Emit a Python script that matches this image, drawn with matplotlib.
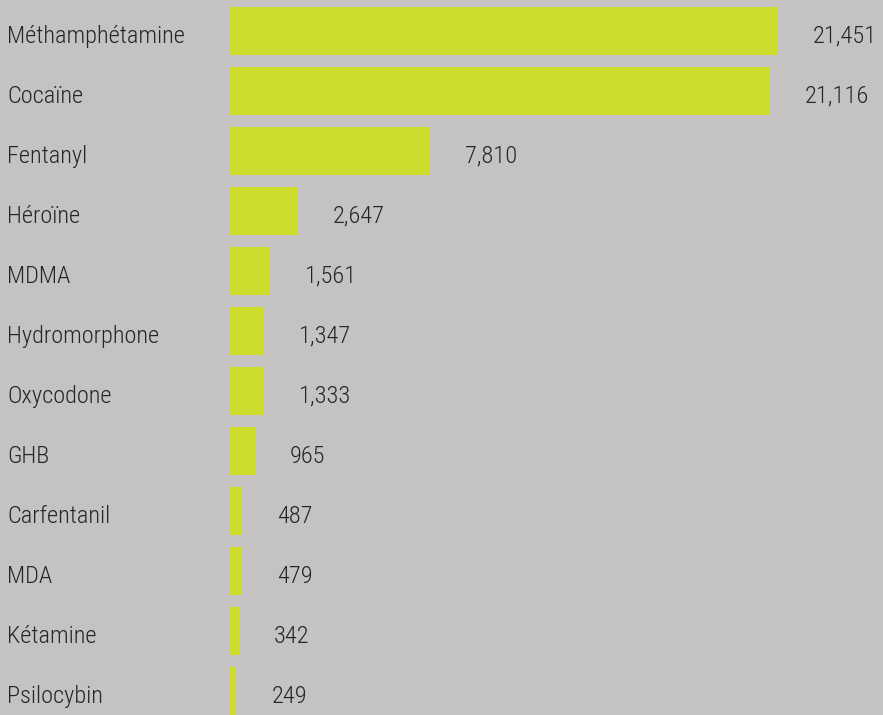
import matplotlib
matplotlib.use("Agg")
import matplotlib.pyplot as plt
import matplotlib.transforms as mtransforms

categories = ["Méthamphétamine", "Cocaïne", "Fentanyl", "Héroïne", "MDMA", "Hydromorphone",
              "Oxycodone", "GHB", "Carfentanil", "MDA", "Kétamine", "Psilocybin"]
values = [21451, 21116, 7810, 2647, 1561, 1347, 1333, 965, 487, 479, 342, 249]

FAM = ["Roboto Condensed", "DejaVu Sans"]
BG = "#c4c3c1"
BAR = "#cddc2d"
TXT = "#262626"

W, H = 883, 715
fig = plt.figure(figsize=(W / 100, H / 100), dpi=100, facecolor=BG)
ax = fig.add_axes([230 / W, 0, (W - 230) / W, 1])
ax.set_facecolor(BG)

px_per_unit = 548 / 21451
ax.set_xlim(0, (W - 230) / px_per_unit)
ax.set_ylim((715 - 31) / 60, -31 / 60)

ypos = list(range(len(categories)))
ax.barh(ypos, values, height=0.8, color=BAR, linewidth=0)

fs = 17.6
trans = mtransforms.blended_transform_factory(fig.transFigure, ax.transData)
for y, cat, v in zip(ypos, categories, values):
    ax.text(7 / W, y + 0.2, cat, transform=trans, ha="left", va="baseline",
            fontsize=fs, color=TXT, family=FAM, fontweight="light")
    ax.annotate(f"{v:,}", xy=(v, y + 0.2), xytext=(35 * 0.72, 0), textcoords="offset points",
                ha="left", va="baseline", fontsize=fs, color=TXT, family=FAM,
                fontweight="light", annotation_clip=False)

ax.axis("off")
fig.savefig("out.png", dpi=100, facecolor=BG)
